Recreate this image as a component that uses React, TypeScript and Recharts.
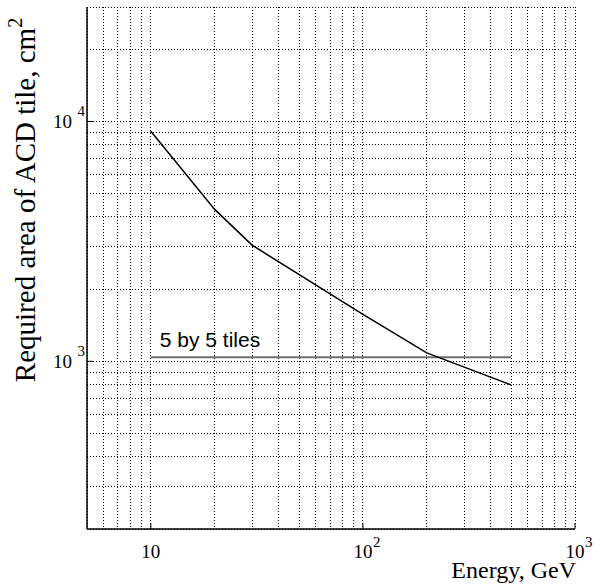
import { LineChart, Line, XAxis, YAxis, CartesianGrid, ReferenceLine, Label } from 'recharts';

const energy = [10, 20, 30, 100, 200, 500];
const area = [9100, 4300, 3050, 1570, 1085, 797];
const tileArea = 1040;
const tileEnergyRange = [10, 500];
const tileLabel = '5 by 5 tiles';

const xGridTicks = [5, 6, 7, 8, 9, 10, 20, 30, 40, 50, 60, 70, 80, 90, 100, 200, 300, 400, 500, 600, 700, 800, 900, 1000];
const yGridTicks = [200, 300, 400, 500, 600, 700, 800, 900, 1000, 2000, 3000, 4000, 5000, 6000, 7000, 8000, 9000, 10000, 20000, 30000];
const xMajor = [10, 100, 1000];
const yMajor = [1000, 10000];

const chartData = energy.map((e, i) => ({ energy: e, area: area[i] }));

const serif = '"Liberation Serif", "Times New Roman", serif';
const gridLine = { stroke: '#000', strokeDasharray: '1 2', strokeWidth: 1, shapeRendering: 'crispEdges' };

function XTick(props: any) {
  const { x, y, payload } = props;
  const v = payload.value;
  if (!xMajor.includes(v)) return <g />;
  const exp = Math.round(Math.log10(v));
  return (
    <g>
      <line x1={x} y1={y} x2={x} y2={y - 6} stroke="#000" />
      <text x={x} y={y + 29} textAnchor="middle" fontFamily={serif} fontSize={19} fill="#000">10</text>
      {exp > 1 && (
        <text x={x + 10} y={y + 18} textAnchor="start" fontFamily={serif} fontSize={15} fill="#000">{exp}</text>
      )}
    </g>
  );
}

function YTick(props: any) {
  const { x, y, payload } = props;
  const v = payload.value;
  if (!yMajor.includes(v)) return <g />;
  const exp = Math.round(Math.log10(v));
  return (
    <g>
      <line x1={x} y1={y} x2={x + 6} y2={y} stroke="#000" />
      <text x={x - 15} y={y + 7} textAnchor="end" fontFamily={serif} fontSize={19} fill="#000">10</text>
      <text x={x - 2} y={y - 5} textAnchor="end" fontFamily={serif} fontSize={15} fill="#000">{exp}</text>
    </g>
  );
}

function TopTick(props: any) {
  const { x, y, payload } = props;
  if (!xMajor.includes(payload.value)) return <g />;
  return <line x1={x} y1={y} x2={x} y2={y + 6} stroke="#000" />;
}

function RightTick(props: any) {
  const { x, y, payload } = props;
  if (!yMajor.includes(payload.value)) return <g />;
  return <line x1={x} y1={y} x2={x - 6} y2={y} stroke="#000" />;
}

export default function App() {
  return (
    <div style={{ position: 'absolute', left: 0, top: 0 }}>
      <LineChart width={601} height={584} data={chartData} margin={{ top: 7, right: 26, bottom: 0, left: 0 }}>
        <CartesianGrid {...gridLine} horizontal={gridLine} vertical={gridLine} />
        <XAxis
          dataKey="energy"
          type="number"
          scale="log"
          domain={[5, 1000]}
          allowDataOverflow
          ticks={xGridTicks}
          interval={0}
          height={55}
          tickSize={0}
          tickMargin={0}
          tickLine={false}
          axisLine={{ stroke: '#000', strokeWidth: 1.5 }}
          tick={<XTick />}
        >
          <Label
            content={(p: any) => {
              const vb = p.viewBox;
              return (
                <text x={vb.x + vb.width + 1} y={vb.y + 49} textAnchor="end" fontFamily={serif} fontSize={24} fill="#000">
                  Energy, GeV
                </text>
              );
            }}
          />
        </XAxis>
        <XAxis
          xAxisId="top"
          orientation="top"
          type="number"
          scale="log"
          domain={[5, 1000]}
          allowDataOverflow
          ticks={xMajor}
          height={0}
          tickSize={0}
          tickLine={false}
          axisLine={{ stroke: '#000', strokeWidth: 1.5 }}
          tick={<TopTick />}
        />
        <YAxis
          type="number"
          scale="log"
          domain={[200, 30000]}
          allowDataOverflow
          ticks={yGridTicks}
          interval={0}
          width={87}
          tickSize={0}
          tickMargin={0}
          tickLine={false}
          axisLine={{ stroke: '#000', strokeWidth: 1.5 }}
          tick={<YTick />}
        >
          <Label
            content={() => (
              <text transform="translate(35, 200) rotate(-90)" textAnchor="middle" fontFamily={serif} fontSize={29} fill="#000">
                Required area of ACD tile, cm
                <tspan dy={-13} fontSize={20}>2</tspan>
              </text>
            )}
          />
        </YAxis>
        <YAxis
          yAxisId="right"
          orientation="right"
          type="number"
          scale="log"
          domain={[200, 30000]}
          allowDataOverflow
          ticks={yMajor}
          width={0}
          tickSize={0}
          tickLine={false}
          axisLine={{ stroke: '#000', strokeWidth: 1.5 }}
          tick={<RightTick />}
        />
        <ReferenceLine
          segment={[
            { x: tileEnergyRange[0], y: tileArea },
            { x: tileEnergyRange[1], y: tileArea },
          ]}
          stroke="#6e6e6e"
          strokeWidth={2}
          label={(p: any) => {
            const vb = p.viewBox;
            return (
              <text x={vb.x + 9} y={vb.y - 10} fontFamily='"Liberation Sans", Arial, sans-serif' fontSize={21} fill="#000">
                {tileLabel}
              </text>
            );
          }}
        />
        <Line
          dataKey="area"
          stroke="#000"
          strokeWidth={1.5}
          dot={false}
          type="linear"
          isAnimationActive={false}
        />
      </LineChart>
    </div>
  );
}
